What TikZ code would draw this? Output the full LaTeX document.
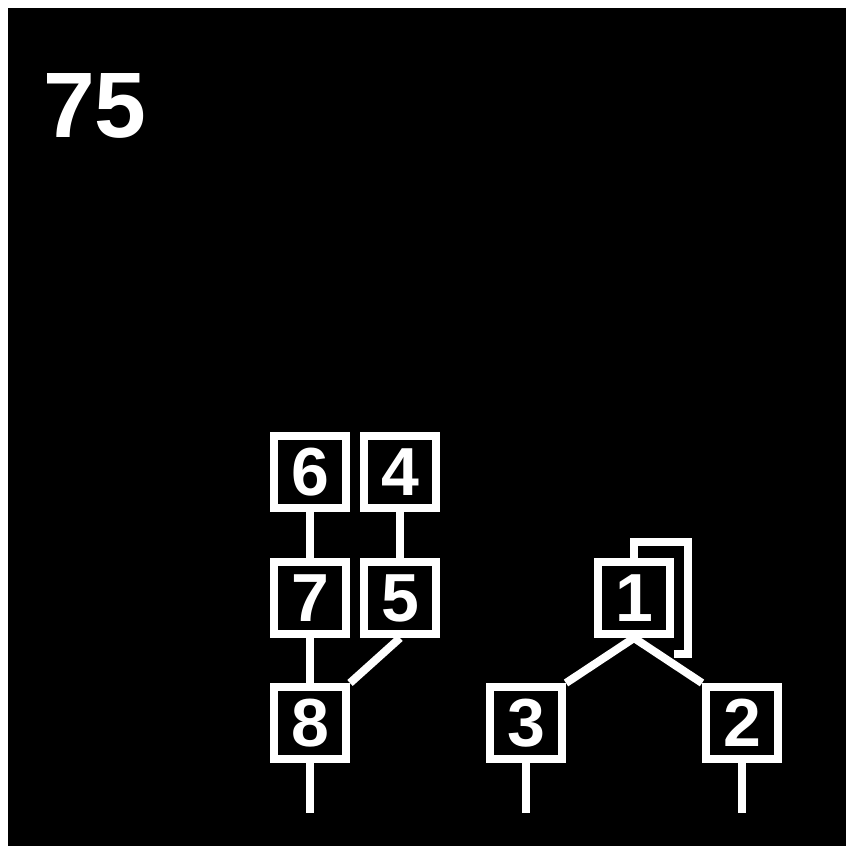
\documentclass[tikz,border=0pt]{standalone}
\usepackage{fontspec}
\setmainfont{Liberation Sans}
\begin{document}
\begin{tikzpicture}[x=1pt,y=1pt,
  box/.style={draw=white,line width=8pt,fill=black,minimum size=72pt,inner sep=0pt,
    text=white,font=\fontsize{68}{68}\selectfont\bfseries},
  wire/.style={draw=white,line width=8pt,line cap=butt,line join=miter}]
\useasboundingbox (0,0) rectangle (854,854);
\fill[white] (0,0) rectangle (854,854);
\fill[black] (8,8) rectangle (846,846);
\node[anchor=base west,inner sep=0pt,text=white,font=\fontsize{93}{93}\selectfont\bfseries] (title) at (43,716) {75};
% loop behind node 1
\coordinate (la) at (634,312);
\coordinate (lb) at (688,312);
\coordinate (lc) at (688,200);
\coordinate (ld) at (674,200);
\coordinate (l0) at (634,256);
\draw[wire] (l0) -- (la) -- (lb) -- (lc) -- (ld);
\node[box] (n6) at (310,382) {6};
\node[box] (n4) at (400,382) {4};
\node[box] (n7) at (310,256) {7};
\node[box] (n5) at (400,256) {5};
\node[box] (n8) at (310,131) {8};
\node[box] (n1) at (634,256) {1};
\node[box] (n3) at (526,131) {3};
\node[box] (n2) at (742,131) {2};
\coordinate (s8) at (310,41);
\coordinate (s3) at (526,41);
\coordinate (s2) at (742,41);
\draw[wire] (n6.south) -- (n7.north);
\draw[wire] (n4.south) -- (n5.north);
\draw[wire] (n7.south) -- (n8.north);
\draw[wire] (n5.south) -- (n8.north east);
\draw[wire] (n1.south) -- (n3.north east);
\draw[wire] (n1.south) -- (n2.north west);
\draw[wire] (n8.south) -- (s8);
\draw[wire] (n3.south) -- (s3);
\draw[wire] (n2.south) -- (s2);
\end{tikzpicture}
\end{document}
